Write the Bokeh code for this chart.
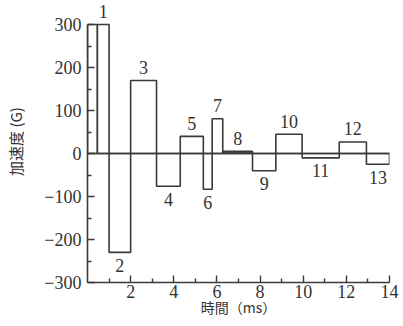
from bokeh.plotting import figure
from bokeh.models import Range1d, FixedTicker, ColumnDataSource
from bokeh.core.properties import value
from bokeh.embed import file_html
from bokeh.resources import INLINE

# pulse segments (time in ms, acceleration in G)
seg_left = [0.0, 0.46, 1.0, 2.0, 3.2, 4.3, 5.37, 5.78, 6.27, 7.65, 8.73, 9.95, 11.67, 12.93]
seg_right = [0.46, 1.0, 2.0, 3.2, 4.3, 5.37, 5.78, 6.27, 7.65, 8.73, 9.95, 11.67, 12.93, 14.0]
seg_value = [300, 300, -230, 170, -76, 40, -83, 81, 5, -40, 45, -10, 27, -25]
seg_label = ["", "1", "2", "3", "4", "5", "6", "7", "8", "9", "10", "11", "12", "13"]

x_ticks = [2, 4, 6, 8, 10, 12, 14]
x_minor = [1, 3, 5, 7, 9, 11, 13]
y_ticks = [-300, -200, -100, 0, 100, 200, 300]
y_tick_labels = ["\u2212300", "\u2212200", "\u2212100", "0", "100", "200", "300"]
y_minor = [-250, -150, -50, 50, 150, 250]

x_title = "時間（ms）"
y_title = "加速度 (G)"

INK = "#3a3a3a"
TXT = "#333333"
NUM_FONT = "Liberation Serif"
CJK_FONT = "Noto Sans CJK JP"

p = figure(width=403, height=326, output_backend="svg", toolbar_location=None,
           x_range=Range1d(0, 14), y_range=Range1d(-300, 356),
           min_border_left=87, min_border_right=14, min_border_top=0, min_border_bottom=44)
p.outline_line_color = None
p.grid.visible = False
p.background_fill_color = "white"

fills = ["white"] * len(seg_value)
fills[seg_label.index("8")] = "#555555"
src = ColumnDataSource(dict(left=seg_left, right=seg_right, top=seg_value,
                            bottom=[0] * len(seg_value), fill=fills))
p.quad(left="left", right="right", top="top", bottom="bottom", source=src,
       fill_color="fill", line_color=INK, line_width=1.6)

# zero line
p.line(x=[0, 14], y=[0, 0], line_color=INK, line_width=1.6)

# pulse number labels
lab_x, lab_y, lab_t, lab_off = [], [], [], []
for l, r, v, t in zip(seg_left, seg_right, seg_value, seg_label):
    if not t:
        continue
    lab_x.append((l + r) / 2)
    lab_y.append(v)
    lab_t.append(t)
    lab_off.append(-13 if v > 0 else 13)
lsrc = ColumnDataSource(dict(x=lab_x, y=lab_y, t=lab_t, off=lab_off))
p.text(x="x", y="y", text="t", y_offset="off", source=lsrc, text_align="center",
       text_baseline="middle", text_font=value(NUM_FONT), text_font_size="18px",
       text_color=TXT)

for ax in (p.xaxis[0], p.yaxis[0]):
    ax.axis_line_color = INK
    ax.axis_line_width = 1.6
    ax.major_tick_line_color = INK
    ax.minor_tick_line_color = INK
    ax.major_tick_line_width = 1.4
    ax.minor_tick_line_width = 1.4
    ax.major_tick_in = 7
    ax.major_tick_out = 0
    ax.minor_tick_in = 4
    ax.minor_tick_out = 0
    ax.major_label_text_font = NUM_FONT
    ax.major_label_text_font_size = "18px"
    ax.major_label_text_color = TXT
    ax.axis_label_text_font = CJK_FONT
    ax.axis_label_text_font_style = "normal"
    ax.axis_label_text_color = TXT

p.xaxis.ticker = FixedTicker(ticks=x_ticks, minor_ticks=x_minor)
p.xaxis.bounds = (0, 14)
p.xaxis.major_label_standoff = 2
p.xaxis.axis_label = x_title
p.xaxis.axis_label_text_font_size = "14px"
p.xaxis.axis_label_standoff = -4

p.yaxis.ticker = FixedTicker(ticks=y_ticks, minor_ticks=y_minor)
p.yaxis.bounds = (-300, 300)
p.yaxis.major_label_overrides = {t: s for t, s in zip(y_ticks, y_tick_labels)}
p.yaxis.major_label_standoff = 6
p.yaxis.axis_label = y_title
p.yaxis.axis_label_text_font_size = "15px"
p.yaxis.axis_label_standoff = 15

open("out.html", "w").write(file_html(p, INLINE))
